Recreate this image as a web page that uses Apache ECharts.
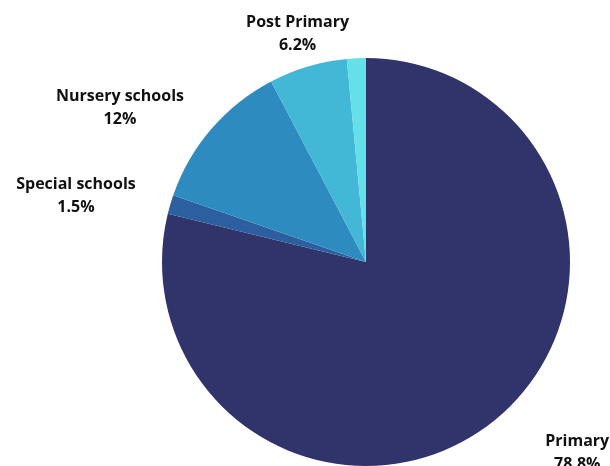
<!DOCTYPE html>
<html><head><meta charset="utf-8">
<script src="https://cdn.jsdelivr.net/npm/echarts@6/dist/echarts.min.js"></script>
<style>html,body{margin:0;padding:0;background:#fff}#c{width:610px;height:466px}</style>
</head><body><div id="c"></div>
<script>
var categories = ['Primary', 'Special schools', 'Nursery schools', 'Post Primary', 'Other'];
var values = [78.8, 1.5, 12, 6.2, 1.5];
var valueLabels = ['78.8%', '1.5%', '12%', '6.2%', ''];
var showLabel = [true, true, true, true, false];
var colors = ['#31346b', '#2c5f9f', '#2e8bbf', '#43b8d6', '#63e0e8'];

var CX = 366, CY = 262, R = 204, LR = 240;
var total = values.reduce(function (a, b) { return a + b; }, 0);
function midAngle(i) {
  var s = 0;
  for (var k = 0; k < i; k++) s += values[k];
  return ((s + values[i] / 2) / total) * 2 * Math.PI;
}

var chart = echarts.init(document.getElementById('c'), null, { renderer: 'canvas' });
chart.setOption({
  animation: false,
  series: [{
    type: 'pie',
    center: [CX, CY],
    radius: [0, R],
    startAngle: 90,
    clockwise: true,
    avoidLabelOverlap: false,
    itemStyle: { borderWidth: 0 },
    label: {
      show: true,
      position: 'outside',
      formatter: function (p) { return p.name + '\n' + valueLabels[p.dataIndex]; },
      fontFamily: 'Open Sans',
      fontWeight: 'bold',
      fontSize: 16,
      lineHeight: 23,
      color: '#111111',
      align: 'center'
    },
    labelLine: { show: false },
    labelLayout: function (p) {
      var a = midAngle(p.dataIndex);
      var dx = Math.sin(a), dy = -Math.cos(a);
      var x = CX + dx * LR, y = CY + dy * LR + 2;
      var w = p.labelRect.width;
      if (dx < -0.5) x -= w / 2;
      else if (dx > 0.5) x += 31 + w / 2;
      return { x: x, y: y, align: 'center', verticalAlign: 'middle' };
    },
    emphasis: { disabled: true },
    data: categories.map(function (c, i) {
      return { name: c, value: values[i], itemStyle: { color: colors[i] }, label: { show: showLabel[i] } };
    })
  }]
});
</script></body></html>
